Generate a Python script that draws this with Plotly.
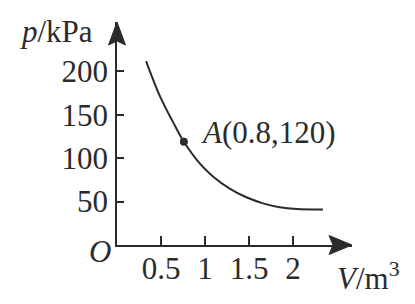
import plotly.graph_objects as go

# Curve p(V)
V = [0.33, 0.49, 0.64, 0.76, 0.94, 1.09, 1.28, 1.47, 1.66, 1.85, 2.04, 2.34]
p = [212, 171, 141, 119, 94, 79, 65, 55, 48, 43.5, 41.5, 41]

# Marked point A
A_V = [0.76]
A_p = [119]
A_label = "<i>A</i>(0.8,120)"

x_ticks = [0.5, 1, 1.5, 2]
x_ticktext = ["0.5", "1", "1.5", "2"]
y_ticks = [50, 100, 150, 200]
y_ticktext = ["50", "100", "150", "200"]

INK = "#2b2b2b"
FONT = "Liberation Serif, Times New Roman, serif"
FS = 31

fig = go.Figure()
fig.add_trace(go.Scatter(x=V, y=p, mode="lines",
                         line=dict(color=INK, width=2, shape="spline", smoothing=1.0),
                         hoverinfo="skip", showlegend=False))
fig.add_trace(go.Scatter(x=A_V, y=A_p, mode="markers",
                         marker=dict(color=INK, size=8),
                         showlegend=False, cliponaxis=False))

axis_common = dict(showgrid=False, zeroline=False, showline=True,
                   linecolor=INK, linewidth=1.5, ticks="inside",
                   tickwidth=1.5, tickcolor=INK,
                   tickfont=dict(family=FONT, size=FS, color=INK))

fig.update_layout(
    width=415, height=304, autosize=False,
    margin=dict(l=117, r=63, t=22, b=59, pad=0),
    paper_bgcolor="white", plot_bgcolor="white",
    xaxis=dict(range=[0, 2.67], tickvals=x_ticks, ticktext=x_ticktext,
               ticklen=9, ticklabelstandoff=-5, **axis_common),
    yaxis=dict(range=[0, 257], tickvals=y_ticks, ticktext=y_ticktext,
               ticklen=7, ticklabelstandoff=1, **axis_common),
    shapes=[
        dict(type="path", xref="paper", yref="paper", xsizemode="pixel", ysizemode="pixel",
             xanchor=1, yanchor=0, path="M0,0 L-23,9.5 L-19,0 L-23,-9.5 Z",
             fillcolor=INK, line=dict(color=INK, width=1)),
        dict(type="path", xref="paper", yref="paper", xsizemode="pixel", ysizemode="pixel",
             xanchor=0, yanchor=1, path="M0,0 L-8.5,-23 L0,-19 L8.5,-23 Z",
             fillcolor=INK, line=dict(color=INK, width=1)),
    ],
    annotations=[
        dict(text="<i>p</i>/kPa", xref="paper", yref="paper", x=0, y=1,
             xanchor="right", yanchor="middle", xshift=-22, yshift=-9.5,
             showarrow=False, font=dict(family=FONT, size=FS, color=INK)),
        dict(text="<i>O</i>", xref="paper", yref="paper", x=0, y=0,
             xanchor="right", yanchor="middle", xshift=-4, yshift=-6,
             showarrow=False, font=dict(family=FONT, size=FS, color=INK)),
        dict(text="<i>V</i>/m<sup>3</sup>", xref="paper", yref="paper", x=1, y=0,
             xanchor="left", yanchor="middle", xshift=-17, yshift=-31,
             showarrow=False, font=dict(family=FONT, size=FS, color=INK)),
        dict(text=A_label, x=A_V[0], y=A_p[0], xref="x", yref="y",
             xanchor="left", yanchor="middle", xshift=15, yshift=9,
             showarrow=False, font=dict(family=FONT, size=FS, color=INK)),
    ],
)

fig.write_html("out.html")
